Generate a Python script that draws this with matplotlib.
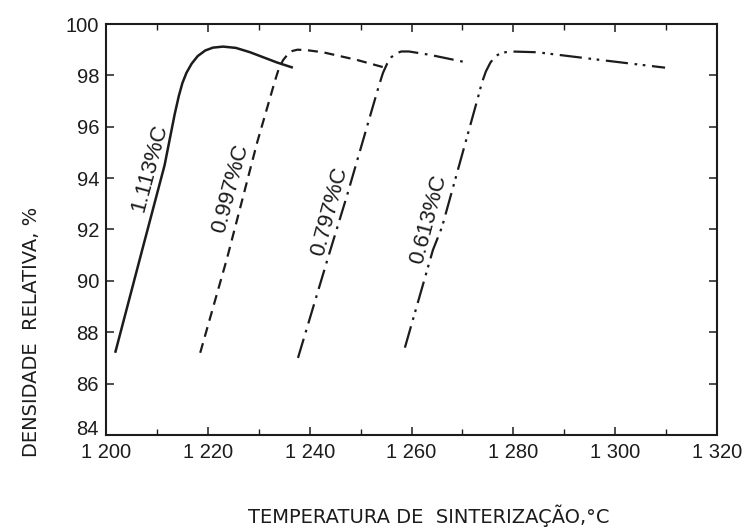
import matplotlib
matplotlib.use("Agg")
import matplotlib.pyplot as plt

plt.rcParams['font.family'] = ['Liberation Sans Narrow', 'Liberation Sans', 'DejaVu Sans']

# densidade relativa (%) vs temperatura de sinterizacao (C), por teor de carbono
t_1113 = [1201.8, 1207.1, 1211.5, 1213.5, 1214.3, 1215.0, 1215.8, 1216.8, 1218.0, 1219.5,
          1221.0, 1223.0, 1225.5, 1228.3, 1233.6, 1236.7]
d_1113 = [87.2, 91.2, 94.5, 96.5, 97.2, 97.7, 98.1, 98.45, 98.75, 98.97,
          99.08, 99.12, 99.07, 98.9, 98.5, 98.3]

t_0997 = [1218.5, 1223.8, 1229.7, 1233.2, 1234.0, 1234.8, 1235.7, 1236.6, 1237.6, 1239.5,
          1242.6, 1249.3, 1254.8]
d_0997 = [87.2, 90.9, 95.4, 97.8, 98.3, 98.6, 98.82, 98.95, 99.0, 98.98,
          98.9, 98.6, 98.3]

t_0797 = [1237.7, 1243.6, 1247.3, 1253.6, 1254.4, 1255.2, 1256.0, 1256.9, 1258.0, 1259.5,
          1263.6, 1270.9]
d_0797 = [87.0, 90.9, 93.3, 97.6, 98.1, 98.45, 98.7, 98.85, 98.93, 98.93,
          98.8, 98.5]

t_0613 = [1258.7, 1264.2, 1266.0, 1273.0, 1273.8, 1274.6, 1275.5, 1276.5, 1277.7, 1279.5,
          1284.7, 1297.1, 1309.8]
d_0613 = [87.4, 91.2, 92.1, 97.1, 97.7, 98.15, 98.5, 98.75, 98.88, 98.93,
          98.9, 98.6, 98.3]

curve_labels = ['1.113%C', '0.997%C', '0.797%C', '0.613%C']
label_pos = [(1208.6, 94.4), (1224.4, 93.6), (1243.9, 92.7), (1263.3, 92.4)]

x_ticks = [1200, 1220, 1240, 1260, 1280, 1300, 1320]
x_ticklabels = ['1 200', '1 220', '1 240', '1 260', '1 280', '1 300', '1 320']
y_ticks = [84, 86, 88, 90, 92, 94, 96, 98, 100]

ink = '#1c1c1c'

fig = plt.figure(figsize=(7.44, 5.31), dpi=100)
ax = fig.add_axes([0.1425, 0.1808, 0.8212, 0.774])

ax.plot(t_1113, d_1113, color=ink, lw=1.8, ls='-', solid_capstyle='butt')
ax.plot(t_0997, d_0997, color=ink, lw=1.6, ls=(0, (4.5, 3.0)))
ax.plot(t_0797, d_0797, color=ink, lw=1.6, ls=(0, (9, 3, 1.2, 3)))
ax.plot(t_0613, d_0613, color=ink, lw=1.6, ls=(0, (10, 3, 1.2, 2.5, 1.2, 3)))

for txt, (tx, ty) in zip(curve_labels, label_pos):
    ax.text(tx, ty, txt, rotation=75, ha='center', va='center',
            fontsize=16, color=ink, rotation_mode='anchor',
            family=['Liberation Sans', 'DejaVu Sans'], fontstyle='normal')

ax.set_xlim(1200, 1320)
ax.set_ylim(84, 100)
ax.set_xticks(x_ticks)
ax.set_xticklabels(x_ticklabels)
ax.set_xticks(range(1210, 1320, 20), minor=True)
ax.set_yticks(y_ticks)

ax.tick_params(axis='both', which='major', direction='in', length=6, width=1.1,
               labelsize=14.5, colors=ink, top=True, right=True)
ax.tick_params(axis='x', which='major', pad=6)
ax.tick_params(axis='y', which='major', pad=5)
ax.tick_params(axis='x', which='minor', direction='in', length=4, width=1.0,
               top=True, colors=ink)
# the lowest y label sits on the axis line so it clears the corner x label
ax.get_yticklabels()[0].set_verticalalignment('baseline')
for s in ax.spines.values():
    s.set_linewidth(1.5)
    s.set_color(ink)

fig.text(32 / 744, 1 - 332 / 531, 'DENSIDADE  RELATIVA, %', rotation=90,
         ha='center', va='center', fontsize=14, color=ink,
         family=['DejaVu Sans'])
fig.text(429 / 744, 1 - 516 / 531, 'TEMPERATURA DE  SINTERIZAÇÃO,°C',
         ha='center', va='center', fontsize=14, color=ink,
         family=['DejaVu Sans'])

fig.savefig('out.png', dpi=100)
